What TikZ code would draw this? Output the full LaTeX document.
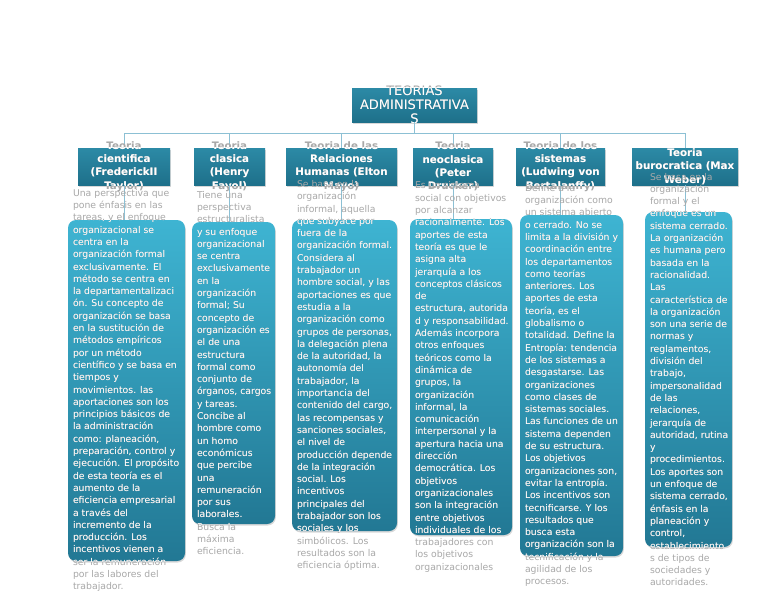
\documentclass[tikz,border=0pt]{standalone}
\usepackage{fontspec}
\setmainfont{DejaVu Sans}
\usetikzlibrary{shadows}

\definecolor{cabclaro}{RGB}{44,138,166}
\definecolor{caboscuro}{RGB}{30,112,138}
\definecolor{cuerpoclaro}{RGB}{62,180,210}
\definecolor{cuerpooscuro}{RGB}{34,120,148}
\definecolor{enlace}{RGB}{140,192,212}
\definecolor{textofuera}{RGB}{168,168,168}

% headings
\newcommand{\cabTaylor}{Teoria\\ cientifica\\ (FrederickII\\ Taylor)}
\newcommand{\cabFayol}{Teoria\\ clasica\\ (Henry\\ Fayol)}
\newcommand{\cabMayo}{Teoria de las\\ Relaciones\\ Humanas (Elton\\ Mayo)}
\newcommand{\cabDrucker}{Teoria\\ neoclasica\\ (Peter\\ Drucker)}
\newcommand{\cabBertalanffy}{Teoria de los\\ sistemas\\ (Ludwing von\\ Bertalanffy)}
\newcommand{\cabWeber}{Teoria\\ burocratica (Max\\ Weber)}

% bodies
\newcommand{\txtTaylor}{Una perspectiva que\\
pone énfasis en las\\
tareas, y el enfoque\\
organizacional se\\
centra en la\\
organización formal\\
exclusivamente. El\\
método  se centra en\\
la departamentalizaci\\
ón. Su concepto de\\
organización se basa\\
en la sustitución de\\
métodos empíricos\\
por un método\\
científico y se basa en\\
tiempos y\\
movimientos. las\\
aportaciones son los\\
principios básicos de\\
la administración\\
como: planeación,\\
preparación, control y\\
ejecución. El propósito\\
de esta teoría es el\\
aumento de la\\
eficiencia empresarial\\
a través del\\
incremento de la\\
producción. Los\\
incentivos vienen a\\
ser la remuneración\\
por las labores del\\
trabajador.}

\newcommand{\txtFayol}{Tiene una\\
perspectiva\\
estructuralista\\
y su enfoque\\
organizacional\\
se centra\\
exclusivamente\\
en la\\
organización\\
formal; Su\\
concepto de\\
organización es\\
el de una\\
estructura\\
formal como\\
conjunto de\\
órganos, cargos\\
y tareas.\\
Concibe al\\
hombre como\\
un homo\\
económicus\\
que percibe\\
una\\
remuneración\\
por sus\\
laborales.\\
Busca la\\
máxima\\
eficiencia.}

\newcommand{\txtMayo}{Se basa en la\\
organización\\
informal, aquella\\
que subyace por\\
fuera de la\\
organización formal.\\
Considera al\\
trabajador un\\
hombre social, y las\\
aportaciones es que\\
estudia a la\\
organización  como\\
grupos de personas,\\
la delegación plena\\
de la autoridad, la\\
autonomía del\\
trabajador, la\\
importancia del\\
contenido del cargo,\\
las recompensas y\\
sanciones sociales,\\
el nivel de\\
producción depende\\
de la integración\\
social. Los\\
incentivos\\
principales del\\
trabajador son los\\
sociales y los\\
simbólicos. Los\\
resultados son la\\
eficiencia óptima.}

\newcommand{\txtDrucker}{Es un sistema\\
social con objetivos\\
por alcanzar\\
racionalmente. Los\\
aportes de esta\\
teoría es que le\\
asigna alta\\
jerarquía a los\\
conceptos clásicos\\
de\\
estructura, autorida\\
d y responsabilidad.\\
Además incorpora\\
otros enfoques\\
teóricos como la\\
dinámica de\\
grupos, la\\
organización\\
informal, la\\
comunicación\\
interpersonal y la\\
apertura hacia una\\
dirección\\
democrática. Los\\
objetivos\\
organizacionales\\
son la integración\\
entre objetivos\\
individuales de los\\
trabajadores con\\
los objetivos\\
organizacionales}

\newcommand{\txtBertalanffy}{Define a la\\
organización como\\
un sistema abierto\\
o cerrado. No se\\
limita a la división y\\
coordinación entre\\
los departamentos\\
como teorías\\
anteriores. Los\\
aportes de esta\\
teoría, es el\\
globalismo o\\
totalidad. Define la\\
Entropía: tendencia\\
de los sistemas a\\
desgastarse. Las\\
organizaciones\\
como clases de\\
sistemas sociales.\\
Las funciones de un\\
sistema dependen\\
de su estructura.\\
Los objetivos\\
organizaciones son,\\
evitar la entropía.\\
Los incentivos son\\
tecnificarse. Y los\\
resultados que\\
busca esta\\
organización son la\\
tecnificación y la\\
agilidad de los\\
procesos.}

\newcommand{\txtWeber}{Se basa en la\\
organización\\
formal y el\\
enfoque es un\\
sistema cerrado.\\
La organización\\
es humana pero\\
basada en la\\
racionalidad.\\
Las\\
característica de\\
la organización\\
son una serie de\\
normas y\\
reglamentos,\\
división del\\
trabajo,\\
impersonalidad\\
de las\\
relaciones,\\
jerarquía de\\
autoridad, rutina\\
y\\
procedimientos.\\
Los aportes son\\
un enfoque de\\
sistema cerrado,\\
énfasis en la\\
planeación y\\
control,\\
establecimiento\\
s de tipos de\\
sociedades y\\
autoridades.}

\tikzset{
  sombra/.style={drop shadow={opacity=0.3,shadow xshift=0.8pt,shadow yshift=-1.5pt}},
  titulo/.style={rectangle,top color=cabclaro,bottom color=caboscuro,
    minimum width=125pt,minimum height=34pt,inner sep=0pt,sombra},
  cabecera/.style={rectangle,top color=cabclaro,bottom color=caboscuro,
    minimum height=37pt,inner sep=0pt,sombra},
  cuerpo/.style={rectangle,rounded corners=8pt,top color=cuerpoclaro,
    bottom color=cuerpooscuro,inner sep=0pt,sombra},
  conector/.style={draw=enlace,line width=0.8pt},
  txttit/.style={align=center,inner sep=0pt,font=\fontsize{13}{14}\selectfont},
  txtcab/.style={align=center,inner sep=0pt,font=\fontsize{10.3}{13.3}\selectfont\bfseries},
  txtcuerpo/.style={align=left,anchor=west,inner sep=0pt,font=\fontsize{9.3}{12.3}\selectfont},
  fuera/.style={text=textofuera},
  dentro/.style={text=white}
}

\begin{document}
\begin{tikzpicture}[x=1pt,y=-1pt]
\fill[white] (0,0) rectangle (768,594);
\useasboundingbox (0,0) rectangle (768,594);

% title
\node[titulo] (tit) at (414.5,105) {};
\node[txttit,fuera] (tt) at (tit) {TEORIAS\\ ADMINISTRATIVA\\ S};
\begin{scope}
  \clip (tit.north west) rectangle (tit.south east);
  \node[txttit,dentro] at (tt) {TEORIAS\\ ADMINISTRATIVA\\ S};
\end{scope}

% headings
\node[cabecera,minimum width=92pt]  (h1) at (124,166.5) {};
\node[cabecera,minimum width=71pt]  (h2) at (229.5,166.5) {};
\node[cabecera,minimum width=111pt] (h3) at (341.5,166.5) {};
\node[cabecera,minimum width=80pt]  (h4) at (453,166.5) {};
\node[cabecera,minimum width=89pt]  (h5) at (560.5,166.5) {};
\node[cabecera,minimum width=106pt] (h6) at (685,166.5) {};

% connectors
\coordinate (rama) at (414.5,133);
\draw[conector] (tit.south) -- (rama);
\foreach \n in {1,...,6}
  \draw[conector] (h\n.north) -- (h\n.north |- rama) -- (rama);

\foreach \n/\cab in {1/\cabTaylor,2/\cabFayol,3/\cabMayo,4/\cabDrucker,5/\cabBertalanffy,6/\cabWeber}{
  \node[txtcab,fuera] (c\n) at (h\n) {\cab};
  \begin{scope}
    \clip (h\n.north west) rectangle (h\n.south east);
    \node[txtcab,dentro] at (c\n) {\cab};
  \end{scope}
}

% bodies
\coordinate (p1) at (126.5,390.5);
\coordinate (p2) at (233.5,373);
\coordinate (p3) at (344.5,375.5);
\coordinate (p4) at (461,377);
\coordinate (p5) at (571.5,385.5);
\coordinate (p6) at (688.5,379.5);
\node[cuerpo,minimum width=117pt,minimum height=341pt] (b1) at (p1) {};
\node[cuerpo,minimum width=83pt,minimum height=302pt]  (b2) at (p2) {};
\node[cuerpo,minimum width=105pt,minimum height=311pt] (b3) at (p3) {};
\node[cuerpo,minimum width=102pt,minimum height=316pt] (b4) at (p4) {};
\node[cuerpo,minimum width=103pt,minimum height=341pt] (b5) at (p5) {};
\node[cuerpo,minimum width=87pt,minimum height=335pt]  (b6) at (p6) {};

\foreach \n in {1,...,6}
  \draw[conector] (h\n.south) -- (h\n.south |- b\n.north);

\foreach \n/\txt in {1/\txtTaylor,2/\txtFayol,3/\txtMayo,4/\txtDrucker,5/\txtBertalanffy,6/\txtWeber}{
  \node[txtcuerpo,fuera] (t\n) at ([xshift=5pt]b\n.west) {\txt};
  \begin{scope}
    \clip[rounded corners=8pt] (b\n.north west) rectangle (b\n.south east);
    \node[txtcuerpo,dentro] at (t\n.west) {\txt};
  \end{scope}
}
\end{tikzpicture}
\end{document}
